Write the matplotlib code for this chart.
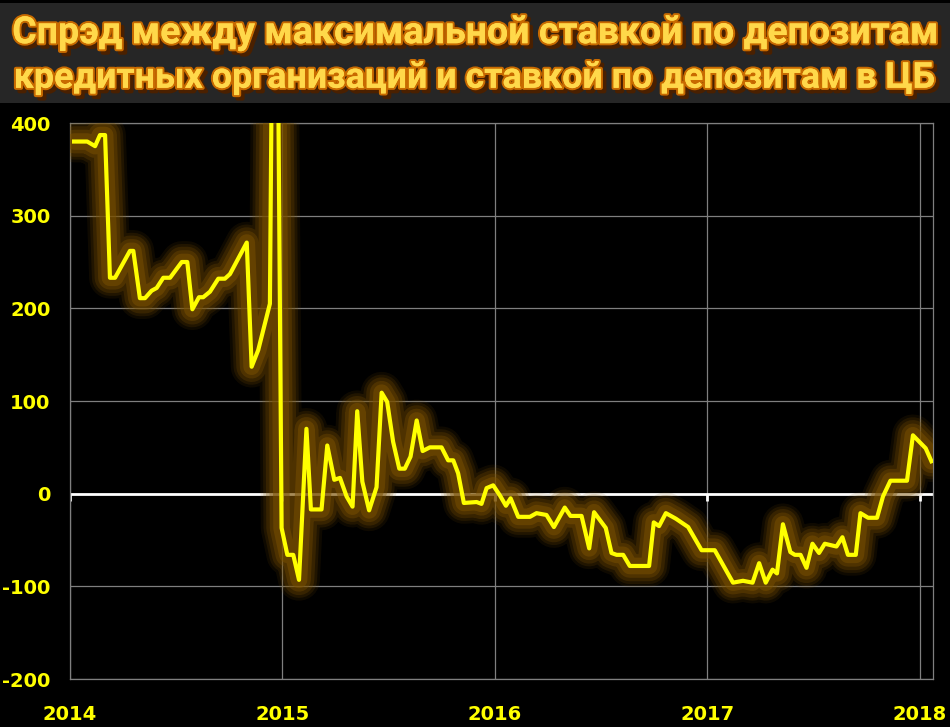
import matplotlib
matplotlib.use("Agg")
import matplotlib.pyplot as plt
import matplotlib.patheffects as pe
from matplotlib.patches import Rectangle

plt.rcParams["axes.unicode_minus"] = False

# time as decimal year, spread in basis points
t = [2014.019, 2014.081, 2014.118, 2014.141, 2014.165, 2014.188, 2014.212, 2014.282,
     2014.298, 2014.329, 2014.353, 2014.384, 2014.408, 2014.439, 2014.471, 2014.526,
     2014.552, 2014.576, 2014.607, 2014.627, 2014.659, 2014.698, 2014.729, 2014.753,
     2014.832, 2014.855, 2014.886, 2014.941, 2014.965, 2014.996, 2015.023, 2015.051,
     2015.078, 2015.113, 2015.134, 2015.184, 2015.211, 2015.244, 2015.271, 2015.302,
     2015.330, 2015.352, 2015.376, 2015.408, 2015.443, 2015.467, 2015.493, 2015.521,
     2015.550, 2015.576, 2015.603, 2015.632, 2015.660, 2015.694, 2015.749, 2015.780,
     2015.804, 2015.827, 2015.854, 2015.914, 2015.937, 2015.961, 2015.992, 2016.024,
     2016.052, 2016.074, 2016.110, 2016.165, 2016.196, 2016.243, 2016.278, 2016.329,
     2016.356, 2016.408, 2016.444, 2016.467, 2016.522, 2016.549, 2016.573, 2016.604,
     2016.635, 2016.726, 2016.748, 2016.773, 2016.805, 2016.852, 2016.910, 2016.973,
     2017.035, 2017.121, 2017.168, 2017.213, 2017.244, 2017.275, 2017.307, 2017.328,
     2017.356, 2017.391, 2017.412, 2017.439, 2017.467, 2017.495, 2017.526, 2017.553,
     2017.608, 2017.636, 2017.662, 2017.699, 2017.721, 2017.757, 2017.799, 2017.827,
     2017.862, 2017.940, 2017.968, 2018.028, 2018.055]
spread = [380, 380, 375, 387, 387, 233, 233, 262,
          262, 211, 211, 219, 222, 233, 233, 250,
          250, 199, 212, 212, 218, 232, 232, 237,
          271, 137, 155, 205, 900, -37, -66, -66,
          -93, 70, -17, -17, 52, 15, 17, -3,
          -14, 89, 13, -18, 7, 109, 99, 56,
          27, 27, 40, 79, 46, 50, 50, 36,
          36, 22, -10, -9, -11, 6, 9, -2,
          -13, -5, -25, -25, -21, -23, -36, -15,
          -24, -24, -59, -20, -37, -64, -66, -66,
          -78, -78, -31, -35, -21, -27, -36, -61,
          -61, -96, -94, -96, -75, -96, -82, -86,
          -33, -63, -66, -66, -80, -54, -64, -54,
          -57, -47, -66, -66, -21, -26, -26, -3,
          14, 14, 63, 49, 35]

years = [2014, 2015, 2016, 2017, 2018]
yticks = [-200, -100, 0, 100, 200, 300, 400]
title1 = "Спрэд между максимальной ставкой по депозитам"
title2 = "кредитных организаций и ставкой по депозитам в ЦБ"

fig = plt.figure(figsize=(9.5, 7.27), dpi=100, facecolor="black")
fig.patches.append(Rectangle((0, 0.858), 1, 0.138, transform=fig.transFigure,
                             facecolor="#262626", edgecolor="none", zorder=0))

ax = fig.add_axes([0.0737, 0.066, 0.9083, 0.7648])
ax.set_facecolor("black")

# glow under the line
for lw, a in [(30, 0.12), (26, 0.18), (22, 0.25), (17, 0.35), (12, 0.5)]:
    ax.plot(t, spread, color="#7a5000", lw=lw, alpha=a, solid_joinstyle="round",
            solid_capstyle="round", zorder=3)
ax.plot(t, spread, color="#ffff00", lw=3, zorder=4, solid_joinstyle="round")

ax.axhline(0, color="white", lw=2, zorder=2)
ax.vlines(years, -8, 0, color="white", lw=2, zorder=2)

ax.set_xlim(2014, 2018.062)
ax.set_ylim(-200, 400)
ax.set_xticks(years)
ax.set_yticks(yticks)
ax.grid(True, color="#7f7f7f", lw=0.9)
ax.set_axisbelow(True)
for s in ax.spines.values():
    s.set_color("#7f7f7f")
    s.set_linewidth(0.9)
ax.tick_params(length=0, colors="#ffff00", labelsize=14)
ax.tick_params(axis="y", pad=14)
ax.tick_params(axis="x", pad=19)
for lab in ax.get_xticklabels() + ax.get_yticklabels():
    lab.set_fontweight("bold")

effects = [pe.SimpleLineShadow(offset=(2.5, -2.5), shadow_color="#4a2000", alpha=1, linewidth=3),
           pe.withStroke(linewidth=3, foreground="#c86a00"),
           pe.Normal()]
for y, txt, fs in [(0.955, title1, 27), (0.893, title2, 25.8)]:
    fig.text(0.5, y, txt, ha="center", va="center", color="#ffd84a",
             fontsize=fs, fontweight="bold", family=["Roboto", "DejaVu Sans"],
             path_effects=effects)

fig.savefig("out.png", dpi=100, facecolor="black")
